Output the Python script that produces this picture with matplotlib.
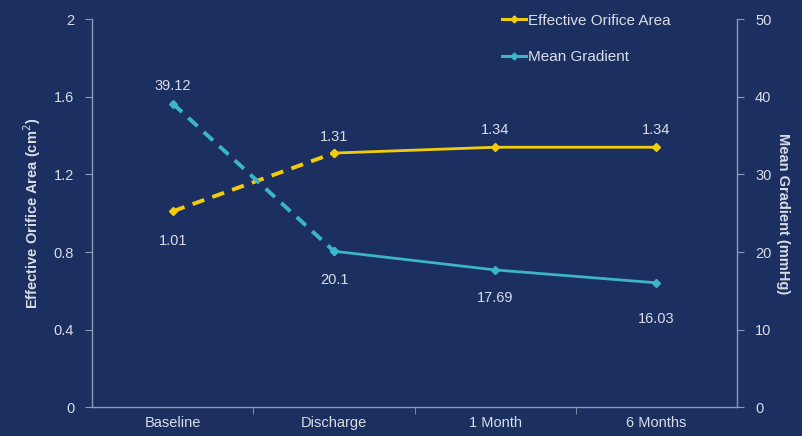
import numpy as np
import matplotlib.pyplot as plt
from matplotlib.lines import Line2D

plt.rcParams['font.family'] = ['Liberation Sans', 'DejaVu Sans']

timepoints = ['Baseline', 'Discharge', '1 Month', '6 Months']
eoa = [1.01, 1.31, 1.34, 1.34]
gradient = [39.12, 20.1, 17.69, 16.03]

bg = '#1b2f60'
fg = '#d9dde6'
axis_col = '#8d9ab8'
yellow = '#f2cc0c'
teal = '#3cb4c9'

x = np.arange(len(timepoints))

fig = plt.figure(figsize=(8.02, 4.36), dpi=100, facecolor=bg)
ax = fig.add_axes([0.115, 0.066, 0.804, 0.89])
ax.set_facecolor(bg)
ax2 = ax.twinx()

# first interval is dashed, later follow-up is solid
ax.plot(x[:2], eoa[:2], color=yellow, lw=2.8, ls=(0, (3.2, 2.2)), marker='D', ms=4, zorder=3)
ax.plot(x[1:], eoa[1:], color=yellow, lw=2.0, marker='D', ms=4, zorder=3)
ax2.plot(x[:2], gradient[:2], color=teal, lw=2.8, ls=(0, (3.2, 2.2)), marker='D', ms=4, zorder=3)
ax2.plot(x[1:], gradient[1:], color=teal, lw=2.0, marker='D', ms=4, zorder=3)

# value labels: offsets in pixels from each marker
eoa_off = [-30, 16, 17, 17]
grad_off = [18, -29, -28, -36]
for i, v in enumerate(eoa):
    ax.annotate(f'{v:.2f}', (x[i], v), xytext=(0, eoa_off[i]), textcoords='offset pixels',
                color=fg, ha='center', va='center', fontsize=10.5)
for i, v in enumerate(gradient):
    ax2.annotate(f'{v:g}', (x[i], v), xytext=(0, grad_off[i]), textcoords='offset pixels',
                 color=fg, ha='center', va='center', fontsize=10.5)

ax.set_xlim(-0.5, 3.5)
ax.set_ylim(0, 2)
ax2.set_ylim(0, 50)
ax.set_yticks([0, 0.4, 0.8, 1.2, 1.6, 2])
ax.set_yticklabels(['0', '0.4', '0.8', '1.2', '1.6', '2'])
ax2.set_yticks([0, 10, 20, 30, 40, 50])
ax.set_xticks(x)
ax.set_xticklabels(timepoints)
ax.set_xticks([0.5, 1.5, 2.5], minor=True)

for a in (ax, ax2):
    for s in a.spines.values():
        s.set_visible(False)
ax.spines['left'].set_visible(True)
ax.spines['bottom'].set_visible(True)
ax2.spines['right'].set_visible(True)
for s in (ax.spines['left'], ax.spines['bottom'], ax2.spines['right']):
    s.set_color(axis_col)
    s.set_linewidth(1)

ax.tick_params(axis='x', which='major', length=0, colors=fg, labelsize=10.5, pad=6)
ax.tick_params(axis='x', which='minor', length=5, color=axis_col)
ax.tick_params(axis='y', length=5, color=axis_col, labelcolor=fg, labelsize=10.5, pad=8)
ax2.tick_params(axis='y', length=5, color=axis_col, labelcolor=fg, labelsize=10.5, pad=8)

ax.set_ylabel('Effective Orifice Area (cm$^2$)', color=fg, fontsize=10.5, fontweight='bold', labelpad=8)
ax2.set_ylabel('Mean Gradient (mmHg)', color=fg, fontsize=10.5, fontweight='bold', rotation=270, labelpad=13)

handles = [Line2D([], [], color=yellow, lw=2.2, marker='D', ms=3.5),
           Line2D([], [], color=teal, lw=2.2, marker='D', ms=3.5)]
leg = ax.legend(handles, ['Effective Orifice Area', 'Mean Gradient'], loc='upper right',
                bbox_to_anchor=(0.918, 1.05), frameon=False, fontsize=11,
                handlelength=1.6, handletextpad=0.1, labelspacing=1.5)
for t in leg.get_texts():
    t.set_color(fg)

fig.savefig('out.png', dpi=100, facecolor=bg)
